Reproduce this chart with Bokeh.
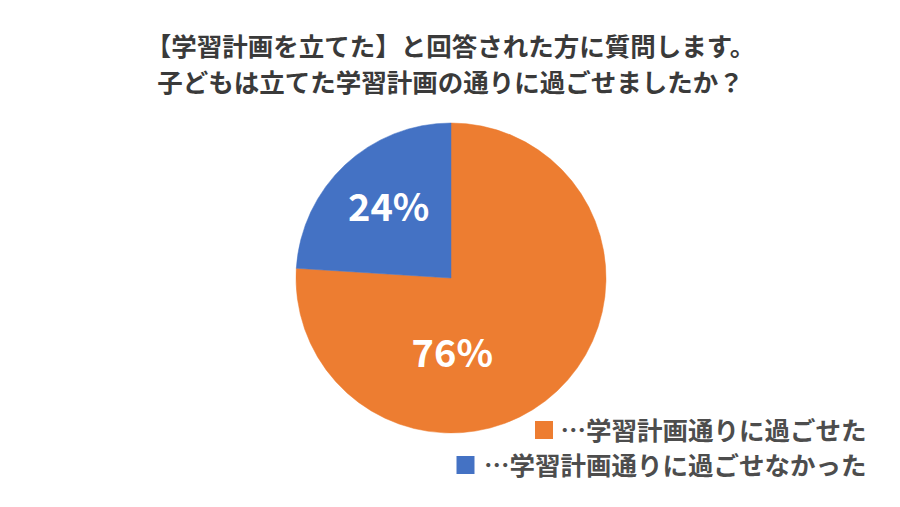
import numpy as np
from bokeh.plotting import figure
from bokeh.models import Range1d, ColumnDataSource
from bokeh.core.properties import value
from bokeh.embed import file_html
from bokeh.resources import INLINE

# ---- data ----
title_lines = ["【学習計画を立てた】と回答された方に質問します。",
               "子どもは立てた学習計画の通りに過ごせましたか？"]
categories = ["…学習計画通りに過ごせた", "…学習計画通りに過ごせなかった"]
shares = [76, 24]
colors = ["#ED7D31", "#4472C4"]

# ---- layout (pixels) ----
W, H = 884, 491
FONT = "Noto Sans CJK JP"

p = figure(width=W, height=H, output_backend="svg", toolbar_location=None,
           x_range=Range1d(0, W), y_range=Range1d(0, H), min_border=0)
p.axis.visible = False
p.grid.visible = False
p.outline_line_color = None
p.background_fill_color = "white"
p.border_fill_color = "white"

def py(y_page):
    return H - y_page

def px(x_page):
    return x_page

cx, cy, r = px(450.5), py(277.5), 155

# wedges clockwise from 12 o'clock
fr = np.array(shares, dtype=float) / sum(shares)
cum = np.concatenate([[0], np.cumsum(fr)])
ends = np.pi / 2 - cum[:-1] * 2 * np.pi
starts = np.pi / 2 - cum[1:] * 2 * np.pi
src = ColumnDataSource(dict(start=starts, end=ends, color=colors))
p.wedge(x=cx, y=cy, radius=r, start_angle="start", end_angle="end",
        fill_color="color", line_color="color", line_width=0.5, source=src)

# data labels (polar placement: angle deg, radius fraction)
label_pos = [(-89, 0.465), (130.4, 0.62)]
lx = [cx + f * r * np.cos(np.radians(a)) for a, f in label_pos]
ly = [cy + f * r * np.sin(np.radians(a)) for a, f in label_pos]
p.text(x=lx, y=ly, text=[f"{s}%" for s in shares], text_color="white",
       text_font=value(FONT), text_font_style="bold", text_font_size="38px",
       text_align="center", text_baseline="middle")

# title
p.text(x=[px(450), px(450)], y=[py(43.5), py(79.5)], text=title_lines,
       text_color="#3A3A3A", text_font=value(FONT), text_font_style="bold",
       text_font_size="25.5px", text_align="center", text_baseline="middle")

# legend
leg_y = [py(427.5), py(462.5)]
p.rect(x=[px(543.5), px(465)], y=[py(429.5), py(464.5)], width=18, height=18,
       fill_color=colors, line_color=None)
p.text(x=[px(866)] * 2, y=leg_y, text=categories, text_color="#4D4D4D",
       text_font=value(FONT), text_font_style="bold", text_font_size="25.5px",
       text_align="right", text_baseline="middle")

open("out.html", "w").write(file_html(p, INLINE))
